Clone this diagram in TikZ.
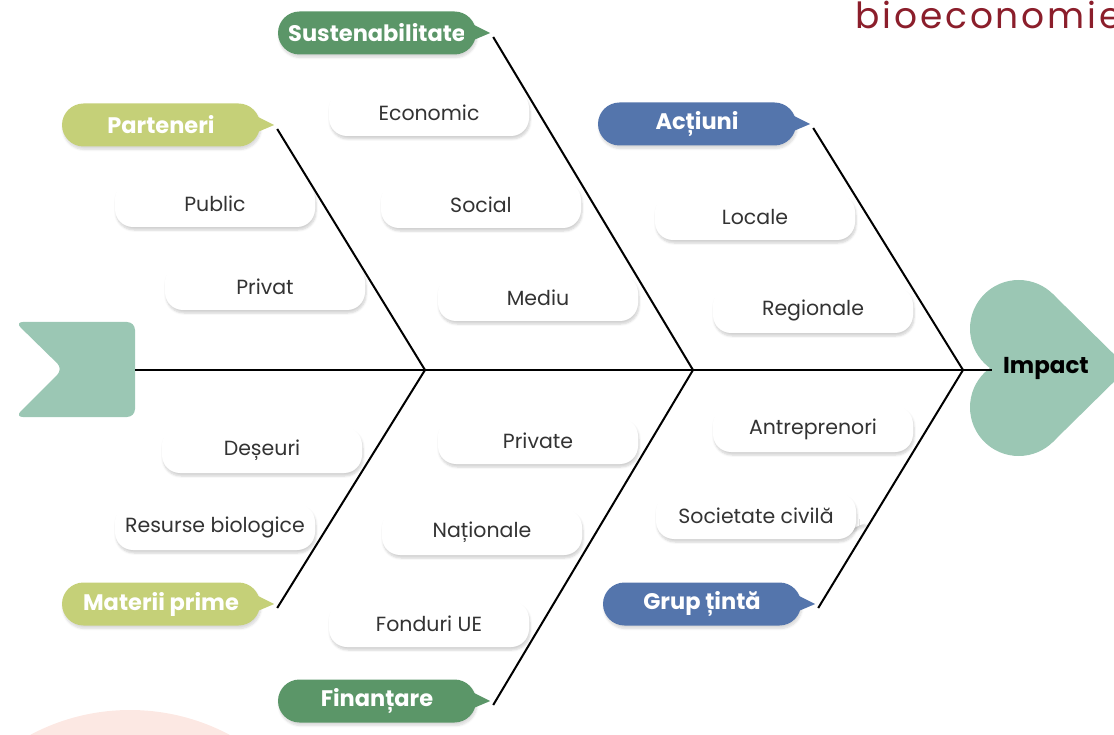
\documentclass[tikz,border=0pt]{standalone}
\usepackage{fontspec}
\setmainfont{Poppins}
\usetikzlibrary{calc,shadows.blur}
\definecolor{dkgreen}{HTML}{5B9668}
\definecolor{limeg}{HTML}{C5D078}
\definecolor{blueish}{HTML}{5475AC}
\definecolor{mint}{HTML}{9BC7B4}
\definecolor{pinkbg}{HTML}{FCE8E3}
\definecolor{wine}{HTML}{8B1E2B}
\definecolor{txt}{HTML}{333333}
\pgfdeclarelayer{bg}
\pgfsetlayers{bg,main}
\newcommand\subbox[3]{%
  \node[sub] (#1) at (#2) {#3};
  \begin{pgfonlayer}{bg}
  \fill[white, blur shadow={shadow blur steps=6, shadow xshift=1pt, shadow yshift=-3pt, shadow opacity=18}]
    ($(#1.east)+(-12,-6)$) -- ($(#1.east)+(9,7)$) -- ($(#1.east)+(-12,16)$) -- cycle;
  \end{pgfonlayer}}
\newcommand\catpill[4]{%
  \node[cat=#3] (#1) at (#2) {#4};
  \fill[#3] ($(#1.east)+(-12,-13)$) -- ($(#1.east)+(14,0)$) -- ($(#1.east)+(-12,11)$) -- cycle;
  \coordinate (#1tip) at ($(#1.east)+(17,4)$);}
\begin{document}
\begin{tikzpicture}[x=1pt,y=-1pt,
  cat/.style={fill=#1, rounded corners=21.5pt, minimum width=198pt, minimum height=43pt,
    inner sep=0pt, text=white, font=\fontsize{22.5}{24}\selectfont\bfseries,
    blur shadow={shadow blur steps=6, shadow xshift=1pt, shadow yshift=-3pt, shadow opacity=15}},
  sub/.style={fill=white, rounded corners=18pt, minimum width=200pt, minimum height=46pt,
    inner sep=0pt, text=txt, font=\fontsize{20.5}{22}\selectfont,
    blur shadow={shadow blur steps=6, shadow xshift=1pt, shadow yshift=-3pt, shadow opacity=18}},
  bone/.style={line width=2pt, black},
]
\useasboundingbox (0,0) rectangle (1114,735);
\begin{scope}
\clip (0,0) rectangle (1114,735);
% background decorations
\fill[pinkbg] (130,922) circle (212);
\fill[mint, rounded corners=8pt] (15,322) -- (135,322) -- (135,417) -- (15,417) -- (63,369) -- cycle;
% heart
\fill[mint] (1018.7,328.7) circle (48.7);
\fill[mint] (1018.7,407.3) circle (48.7);
\fill[mint] (1053.1,294.3) -- (1128,368) -- (1053.1,441.7) -- (1018.7,407.3) -- (1000,368) -- (1018.7,328.7) -- cycle;
\end{scope}

% spine
\coordinate (S0) at (135,370);
\coordinate (J1) at (425,370);
\coordinate (J2) at (693,370);
\coordinate (J3) at (963,370);
\coordinate (S1) at (992,370);
\draw[bone] (S0) -- (S1);

% category pills
\catpill{sus}{377,33}{dkgreen}{Sustenabilitate}
\catpill{par}{161,125}{limeg}{Parteneri}
\catpill{act}{697,124}{blueish}{Acțiuni}
\catpill{mat}{161,604}{limeg}{Materii prime}
\catpill{grp}{702,604}{blueish}{Grup țintă}
\catpill{fin}{377,701}{dkgreen}{Finanțare}

% bones
\draw[bone] (partip) -- (J1);
\draw[bone] (mattip) -- (J1);
\draw[bone] (sustip) -- (J2);
\draw[bone] (fintip) -- (J2);
\draw[bone] (acttip) -- (J3);
\draw[bone] (grptip) -- (J3);

% sub boxes
\subbox{eco}{429,113}{Economic}
\subbox{pub}{215,204}{Public}
\subbox{soc}{481,205}{Social}
\subbox{pri}{265,287}{Privat}
\subbox{med}{538,298}{Mediu}
\subbox{loc}{755,217}{Locale}
\subbox{reg}{813,310}{Regionale}
\subbox{des}{262,450}{Deșeuri}
\subbox{res}{215,527}{Resurse biologice}
\subbox{prv}{538,441}{Private}
\subbox{nat}{482,532}{Naționale}
\subbox{fon}{429,624}{Fonduri UE}
\subbox{ant}{813,429}{Antreprenori}
\subbox{civ}{756,516}{Societate civilă}

% labels
\node[font=\fontsize{23}{25}\selectfont\bfseries, text=black] (imp) at (1046,368) {Impact};
\node[anchor=base west, inner sep=0pt, text=wine, font=\fontsize{36}{40}\selectfont\addfontfeature{LetterSpace=8}] (bio) at (855,29) {bioeconomie};
\end{tikzpicture}
\end{document}
